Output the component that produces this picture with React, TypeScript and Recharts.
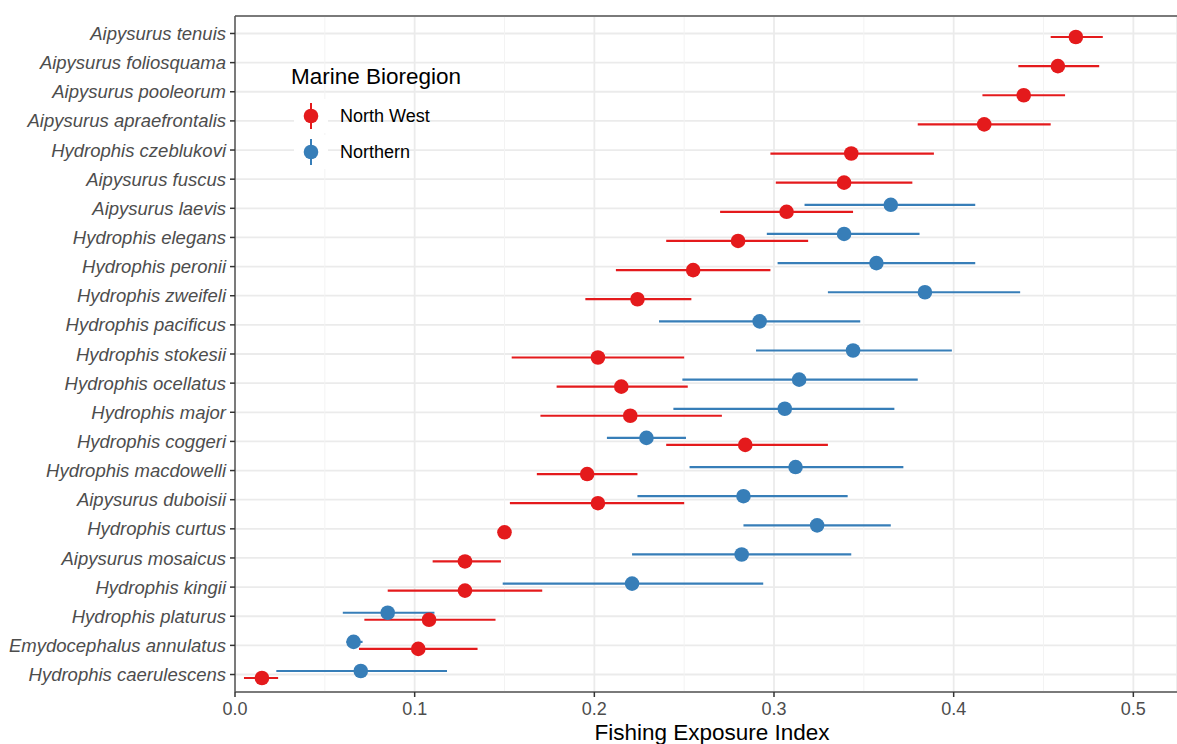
import {
  ScatterChart,
  Scatter,
  XAxis,
  YAxis,
  CartesianGrid,
  ErrorBar,
  Legend,
  ReferenceLine,
} from 'recharts';

// species, top to bottom as shown on the chart
const species = [
  'Aipysurus tenuis',
  'Aipysurus foliosquama',
  'Aipysurus pooleorum',
  'Aipysurus apraefrontalis',
  'Hydrophis czeblukovi',
  'Aipysurus fuscus',
  'Aipysurus laevis',
  'Hydrophis elegans',
  'Hydrophis peronii',
  'Hydrophis zweifeli',
  'Hydrophis pacificus',
  'Hydrophis stokesii',
  'Hydrophis ocellatus',
  'Hydrophis major',
  'Hydrophis coggeri',
  'Hydrophis macdowelli',
  'Aipysurus duboisii',
  'Hydrophis curtus',
  'Aipysurus mosaicus',
  'Hydrophis kingii',
  'Hydrophis platurus',
  'Emydocephalus annulatus',
  'Hydrophis caerulescens',
];

// North West bioregion
const nwMean = [0.468, 0.458, 0.439, 0.417, 0.343, 0.339, 0.307, 0.28, 0.255, 0.224, null, 0.202, 0.215, 0.22, 0.284, 0.196, 0.202, 0.15, 0.128, 0.128, 0.108, 0.102, 0.015];
const nwLow = [0.454, 0.436, 0.416, 0.38, 0.298, 0.301, 0.27, 0.24, 0.212, 0.195, null, 0.154, 0.179, 0.17, 0.24, 0.168, 0.153, 0.15, 0.11, 0.085, 0.072, 0.069, 0.005];
const nwHigh = [0.483, 0.481, 0.462, 0.454, 0.389, 0.377, 0.344, 0.319, 0.298, 0.254, null, 0.25, 0.252, 0.271, 0.33, 0.224, 0.25, 0.15, 0.148, 0.171, 0.145, 0.135, 0.024];

// Northern bioregion
const nMean = [null, null, null, null, null, null, 0.365, 0.339, 0.357, 0.384, 0.292, 0.344, 0.314, 0.306, 0.229, 0.312, 0.283, 0.324, 0.282, 0.221, 0.085, 0.066, 0.07];
const nLow = [null, null, null, null, null, null, 0.317, 0.296, 0.302, 0.33, 0.236, 0.29, 0.249, 0.244, 0.207, 0.253, 0.224, 0.283, 0.221, 0.149, 0.06, 0.062, 0.023];
const nHigh = [null, null, null, null, null, null, 0.412, 0.381, 0.412, 0.437, 0.348, 0.399, 0.38, 0.367, 0.251, 0.372, 0.341, 0.365, 0.343, 0.294, 0.111, 0.071, 0.118];

const xTicks = [0, 0.1, 0.2, 0.3, 0.4, 0.5];
const xMinor = [0.05, 0.15, 0.25, 0.35, 0.45];

const RED = '#E41A1C';
const BLUE = '#377EB8';
const n = species.length;
const DODGE = 0.12;

const buildSeries = (mean: (number | null)[], low: (number | null)[], high: (number | null)[], shift: number) =>
  species
    .map((name, i) => {
      const m = mean[i];
      if (m === null) return null;
      return {
        name,
        x: m,
        y: n - 1 - i + shift,
        err: [m - (low[i] as number), (high[i] as number) - m],
      };
    })
    .filter(Boolean);

const nwData = buildSeries(nwMean, nwLow, nwHigh, -DODGE);
const nData = buildSeries(nMean, nLow, nHigh, DODGE);
const yTicks = species.map((_, i) => i);

const dot = (color: string) => (props: any) => (
  <circle cx={props.cx} cy={props.cy} r={7.3} fill={color} />
);

const BioregionLegend = () => {
  const items = [
    { label: 'North West', color: RED, cy: 61 },
    { label: 'Northern', color: BLUE, cy: 97 },
  ];
  return (
    <svg width={220} height={125}>
      <text x={6} y={29} fontSize={22.5} fill="#000">
        Marine Bioregion
      </text>
      {items.map((it) => (
        <g key={it.label}>
          <rect x={9} y={it.cy - 17} width={34} height={34} fill="#fff" />
          <line x1={26} x2={26} y1={it.cy - 13} y2={it.cy + 13} stroke={it.color} strokeWidth={2} />
          <circle cx={26} cy={it.cy} r={7.3} fill={it.color} />
          <text x={55} y={it.cy + 6.4} fontSize={18} fill="#000">
            {it.label}
          </text>
        </g>
      ))}
    </svg>
  );
};

export default function App() {
  return (
    <div
      style={{
        position: 'absolute',
        left: 0,
        top: 0,
        width: 1177,
        height: 744,
        background: '#fff',
        fontFamily: '"Liberation Sans", Arial, sans-serif',
      }}
    >
      <ScatterChart width={1177} height={744} margin={{ top: 16, right: 0, bottom: 0, left: 0 }}>
        {xMinor.map((v) => (
          <ReferenceLine key={v} x={v} stroke="#F3F3F3" strokeWidth={1} />
        ))}
        <CartesianGrid stroke="#EBEBEB" strokeWidth={1.8} />
        <ReferenceLine y={n - 0.4} stroke="#555" strokeWidth={1.5} />
        <XAxis
          type="number"
          dataKey="x"
          domain={[0, 0.5243]}
          ticks={xTicks}
          allowDataOverflow
          tickFormatter={(v: number) => v.toFixed(1)}
          height={52}
          tickSize={5}
          tickMargin={5}
          axisLine={{ stroke: '#555', strokeWidth: 1.5 }}
          tickLine={{ stroke: '#333', strokeWidth: 1.5 }}
          tick={{ fontSize: 18, fill: '#4D4D4D' }}
          label={{
            value: 'Fishing Exposure Index',
            position: 'insideBottom',
            offset: 4,
            dx: 6,
            style: { fontSize: 22.5, fill: '#000' },
          }}
        />
        <YAxis
          type="number"
          dataKey="y"
          domain={[-0.6, n - 0.4]}
          ticks={yTicks}
          interval={0}
          allowDataOverflow
          tickFormatter={(v: number) => species[n - 1 - v]}
          width={235}
          tickSize={5}
          tickMargin={4}
          axisLine={{ stroke: '#555', strokeWidth: 1.5 }}
          tickLine={{ stroke: '#333', strokeWidth: 1.5 }}
          tick={{ fontSize: 18.5, fill: '#4D4D4D', fontStyle: 'italic' }}
        />
        <Legend
          layout="horizontal"
          verticalAlign="middle"
          align="center"
          wrapperStyle={{ left: 285, top: 55, width: 220, height: 125 }}
          content={() => <BioregionLegend />}
        />
        <Scatter name="Northern" data={nData} fill={BLUE} shape={dot(BLUE)} isAnimationActive={false}>
          <ErrorBar dataKey="err" direction="x" width={0} stroke={BLUE} strokeWidth={2.2} isAnimationActive={false} />
        </Scatter>
        <Scatter name="North West" data={nwData} fill={RED} shape={dot(RED)} isAnimationActive={false}>
          <ErrorBar dataKey="err" direction="x" width={0} stroke={RED} strokeWidth={2.2} isAnimationActive={false} />
        </Scatter>
      </ScatterChart>
    </div>
  );
}
